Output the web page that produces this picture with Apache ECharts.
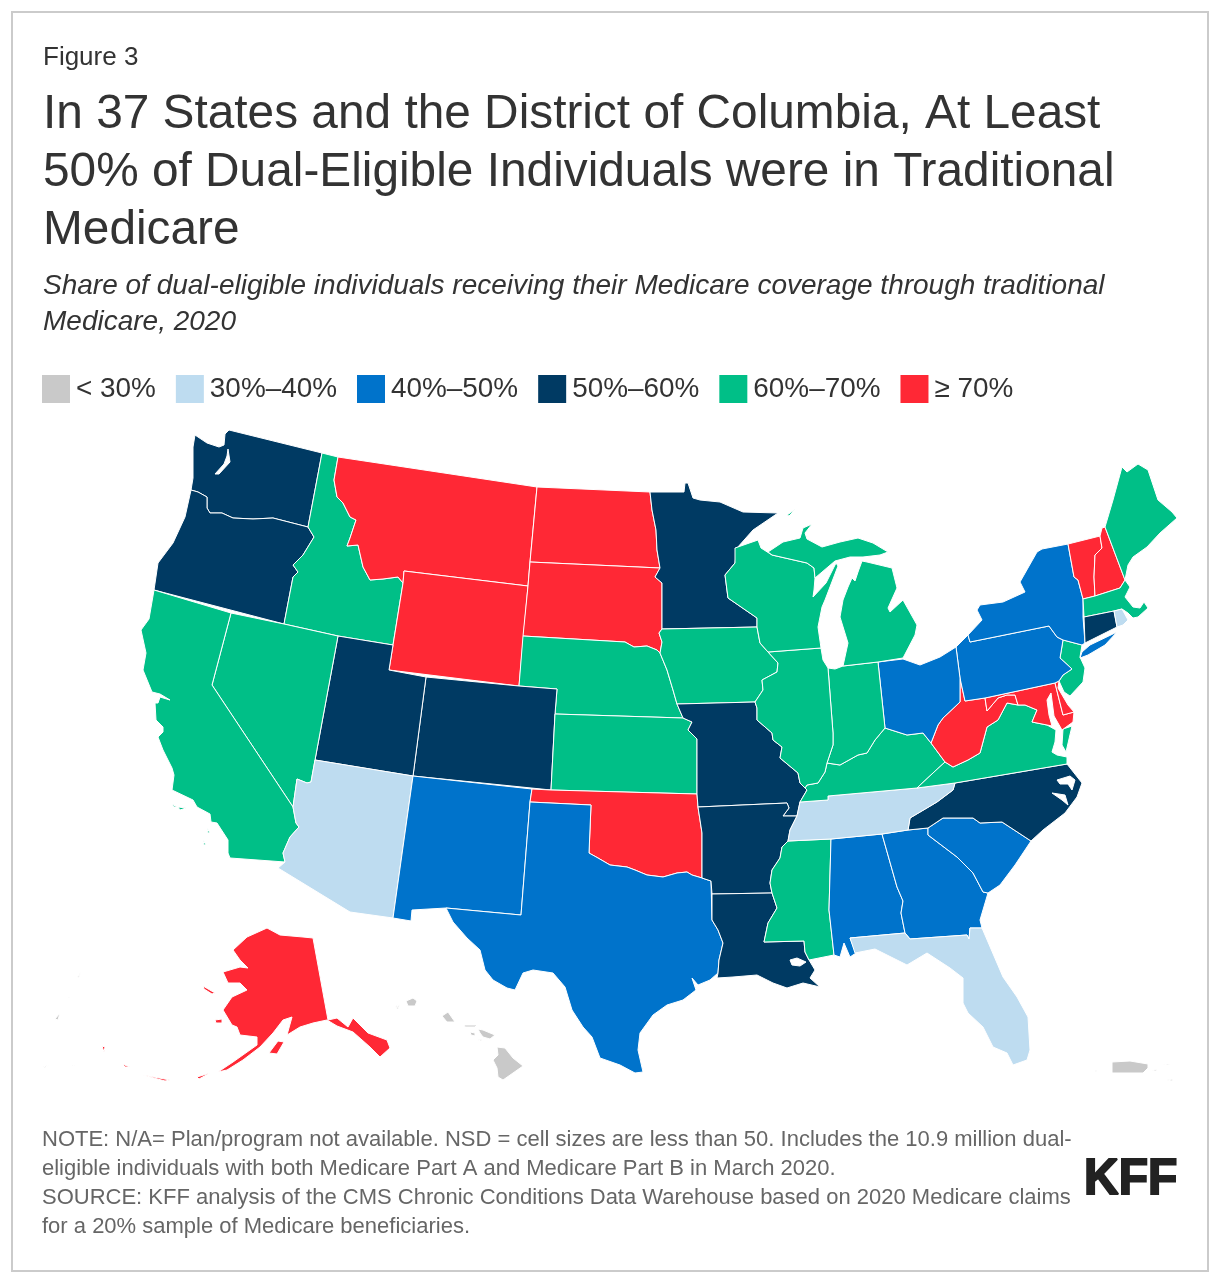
<!DOCTYPE html>
<html><head><meta charset="utf-8">
<style>html,body{margin:0;padding:0;background:#fff}#c{width:1220px;height:1282px}</style>
<script src="https://cdn.jsdelivr.net/npm/echarts@6/dist/echarts.min.js"></script>
</head><body><div id="c"></div>
<script>
const bandLabels = ['< 30%','30%–40%','40%–50%','50%–60%','60%–70%','≥ 70%'];
const bandColors = ['#c9c9c9','#bedcf0','#0073cb','#003a63','#00bf87','#ff2835'];
const bandUnder30 = ['HI','PR','VI','GU','MP','AS'];
const band30to40 = ['AZ','TN','FL','RI'];
const band40to50 = ['NY','PA','OH','NM','TX','AL','GA','SC'];
const band50to60 = ['WA','OR','UT','CO','MN','MO','AR','LA','NC','CT'];
const band60to70 = ['CA','NV','ID','NE','KS','IA','WI','MI','IL','IN','KY','MS','VA','NJ','MA','ME'];
const bandOver70 = ['MT','WY','ND','SD','OK','WV','MD','DE','VT','NH','AK'];
const bands = [bandUnder30,band30to40,band40to50,band50to60,band60to70,bandOver70];

const stateOutlines = {
WA:['195,435 207,443 219,447 224,445 225,434 229,430 322,453 308,527 273,518 253,519 233,518 222,513 210,513 207,508 207,497 198,492 191,490 193,478 193,472 193,447|228,449 230,462 219,474 215,474 224,464 227,456'],
OR:['191,490 198,492 207,497 207,508 210,513 222,513 233,518 253,519 273,518 308,527 314,537 303,555 293,565 298,572 293,577 284,624 154,590 158,563 173,543 185,517'],
ID:['322,453 338,457 334,480 337,497 343,503 350,517 356,520 350,538 347,546 358,545 363,567 370,580 383,579 398,577 403,583 393,645 338,636 284,624 293,577 298,572 293,565 303,555 314,537 308,527'],
MT:['338,457 537,487 530,562 528,586 404,571 403,583 398,577 383,579 370,580 363,567 358,545 347,546 350,538 356,520 350,517 343,503 337,497 334,480'],
WY:['404,571 528,586 519,686 389,670 393,645 403,583'],
ND:['537,487 650,492 652,510 656,530 657,550 660,568 530,562'],
SD:['530,562 660,568 655,577 662,583 662,629 659,633 662,642 660,653 657,650 647,646 634,647 625,642 523,636 528,586'],
NE:['523,636 625,642 634,647 647,646 657,650 660,653 667,670 673,690 677,704 683,718 555,714 557,689 519,686'],
CO:['426,677 519,686 557,689 555,714 551,790 413,776'],
UT:['338,636 393,645 389,670 426,677 413,776 315,760'],
NV:['231,613 284,624 338,636 315,760 311,782 307,783 297,779 295,793 293,807 212,685'],
CA:['154,590 231,613 212,685 293,807 296,823 299,827 290,837 283,853 285,862 230,858 228,853 228,840 217,823 211,822 210,814 197,807 193,800 172,790 174,775 172,768 163,750 158,737 163,732 163,727 156,720 155,703 158,703 160,697 170,700 160,694 152,692 143,670 146,653 141,630 149,619',
 '172,804 177,807 174,807','178,807 186,808 180,810','207,828 210,833 208,833','203,840 206,845 204,845'],
AZ:['315,760 413,776 393,918 350,912 278,868 285,862 283,853 290,837 299,827 296,823 293,807 295,793 297,779 307,783 311,782'],
NM:['413,776 532,789 530,802 521,915 446,908 412,910 411,921 393,918'],
KS:['555,714 683,718 692,722 688,730 697,739 697,794 551,790'],
OK:['532,789 551,790 697,794 698,807 702,833 702,878 692,875 687,872 677,873 663,877 647,875 635,870 627,867 610,865 598,858 589,853 591,805 530,802'],
TX:['530,802 591,805 589,853 598,858 610,865 627,867 635,870 647,875 663,877 677,873 687,872 692,875 702,878 711,881 712,920 718,930 723,943 719,960 718,973 710,980 698,985 692,978 696,990 683,1000 667,1005 653,1015 640,1033 638,1050 643,1072 635,1073 620,1065 600,1058 592,1037 583,1027 572,1010 565,987 553,973 533,970 523,973 515,990 507,988 493,980 485,970 480,950 467,938 453,922 446,908 521,915'],
MN:['650,492 684,492 685,483 688,483 693,498 700,500 720,502 743,512 778,513 753,530 737,548 735,563 725,575 728,598 757,618 757,627 662,629 662,583 655,577 660,568 657,550 656,530 652,510'],
IA:['662,629 757,627 760,643 768,652 778,663 777,672 762,680 763,690 755,702 677,704 673,690 667,670 660,653 662,642 659,633'],
MO:['677,704 755,702 757,708 757,720 772,733 773,740 782,747 780,758 798,773 800,783 805,788 807,790 800,802 797,816 783,816 789,808 787,803 698,807 697,794 697,739 688,730 692,722 683,718'],
AR:['698,807 787,803 789,808 783,816 797,816 790,830 788,841 782,847 780,858 772,870 770,883 772,893 712,894 711,881 702,878 702,833'],
LA:['712,894 772,893 777,908 768,923 764,942 804,941 805,952 809,960 815,970 810,978 820,987 803,983 787,988 773,983 757,975 733,977 717,978 718,973 719,960 723,943 718,930 712,920|790,960 797,958 806,962 800,966 792,965'],
MS:['788,841 831,839 829,910 834,955 809,960 805,952 804,941 764,942 768,923 777,908 772,893 770,883 772,870 780,858 782,847'],
AL:['831,839 882,834 897,887 903,901 901,913 905,933 850,938 856,953 850,957 844,943 840,957 834,955 829,910'],
GA:['882,834 908,830 928,828 928,835 957,857 973,873 983,892 988,893 980,920 982,928 970,928 969,939 967,935 910,939 905,933 901,913 903,901 897,887'],
FL:['850,938 905,933 910,939 967,935 969,939 970,928 982,928 1003,977 1017,997 1028,1017 1030,1050 1027,1060 1013,1065 1007,1053 993,1047 983,1027 968,1013 963,1003 963,978 950,968 927,953 907,965 897,960 875,949 855,953'],
SC:['928,828 943,818 973,818 980,823 1002,822 1031,841 1015,865 1000,885 988,893 983,892 973,873 957,857 928,835'],
NC:['908,830 910,818 937,802 953,790 955,783 1067,764 1082,783 1077,797 1065,813 1043,830 1031,841 1002,822 980,823 973,818 943,818 928,828|1057,780 1070,776 1075,780 1072,790 1068,784 1060,784|1052,793 1065,795 1068,805 1062,800'],
TN:['788,841 790,830 797,816 800,802 828,800 828,796 917,788 955,783 953,790 937,802 910,818 908,830 882,834 831,839'],
KY:['800,802 807,790 805,788 807,785 818,783 825,772 827,763 840,765 858,755 867,753 875,740 885,728 907,735 923,733 931,743 945,762 933,773 917,788 828,796 828,800'],
VA:['917,788 933,773 945,762 953,767 968,760 980,753 987,727 998,720 1007,703 1018,705 1025,705 1037,710 1032,722 1047,725 1056,730 1055,742 1052,752 1057,755 1067,757 1067,764 955,783','1063,729 1072,726 1066,752 1062,745'],
WV:['960,678 965,701 985,698 987,711 998,698 1007,695 1015,695 1018,705 1007,703 998,720 987,727 980,753 968,760 953,767 945,762 931,743 938,725 943,718 960,702'],
MD:['985,698 1055,683 1063,715 1074,712 1073,722 1062,730 1054,716 1051,693 1047,700 1049,715 1052,726 1047,725 1032,722 1037,710 1025,705 1018,705 1015,695 1007,695 998,698 987,711'],
DE:['1055,683 1059,681 1058,688 1068,705 1074,712 1063,715'],
NJ:['1063,640 1082,645 1080,657 1085,668 1083,682 1070,696 1064,692 1059,681 1063,675 1072,669 1060,658'],
PA:['956,647 968,635 970,642 1049,626 1057,637 1063,640 1060,658 1072,669 1063,675 1059,681 1055,683 985,698 965,701 960,678'],
NY:['968,635 982,620 977,610 980,605 1003,602 1025,592 1020,582 1037,552 1042,549 1068,544 1074,577 1078,580 1083,599 1083,617 1085,643 1082,645 1063,640 1057,637 1049,626 970,642','1082,652 1090,645 1117,632 1105,645 1088,655 1080,658'],
VT:['1068,544 1100,536 1102,548 1095,555 1094,577 1095,596 1083,599 1078,580 1074,577'],
NH:['1100,536 1102,528 1105,527 1125,580 1120,588 1095,596 1094,577 1095,555 1102,548'],
ME:['1105,527 1113,500 1122,467 1127,472 1138,464 1148,470 1158,500 1172,512 1177,518 1160,533 1147,547 1133,557 1128,565 1125,580'],
MA:['1083,599 1095,596 1120,588 1125,580 1130,587 1125,597 1133,607 1140,608 1144,602 1148,608 1138,617 1133,618 1128,613 1122,609 1114,611 1084,617'],
CT:['1084,617 1114,611 1117,627 1085,643'],
RI:['1114,611 1122,609 1128,620 1123,625 1117,627'],
OH:['878,662 903,659 920,665 940,657 956,647 960,678 960,702 943,718 938,725 931,743 923,733 907,735 885,728'],
IN:['828,668 835,669 843,666 878,662 885,728 875,740 867,753 858,755 840,765 827,763 833,745 833,733'],
IL:['768,652 821,648 823,660 828,668 833,733 833,745 827,763 825,772 818,783 807,785 805,788 800,783 798,773 780,758 782,747 773,740 772,733 757,720 757,708 755,702 763,690 762,680 777,672 778,663'],
WI:['735,548 758,540 761,548 772,555 807,563 814,568 815,578 814,590 813,597 826,583 836,563 838,566 825,600 822,607 818,627 821,648 768,652 760,643 757,627 757,618 728,598 725,575 735,563'],
MI:['768,552 783,542 800,538 803,528 812,524 805,533 807,539 822,547 840,542 858,538 873,543 888,552 880,555 863,557 850,557 835,561 815,578 814,568 807,563 772,555',
 '843,666 848,643 840,617 843,600 848,587 852,578 855,581 858,572 862,561 867,562 892,568 897,588 888,608 890,612 903,600 917,625 915,635 903,658 878,662',
 '787,515 796,509 797,510 789,516'],
AK:['313,938 328,1020 337,1018 348,1027 353,1018 368,1033 387,1040 390,1048 380,1057 370,1047 353,1032 337,1026 327,1020 313,1023 300,1027 287,1035 292,1017 283,1020 273,1033 260,1047 243,1060 227,1070 218,1072 233,1062 257,1045 257,1037 240,1035 237,1027 232,1025 223,1010 232,997 247,990 240,983 228,983 223,972 240,967 248,968 240,960 233,950 247,937 267,928 280,935 303,937',
 '269,1053 278,1041 284,1042 277,1054','215,1020 222,1019 222,1023 216,1023','203,986 215,993 212,994 204,989',
 '197,1077 210,1073 199,1079','143,1075 170,1080 165,1081','122,1064 130,1067 125,1067','102,1046 105,1047 104,1052'],
HI:['497,1047 505,1048 513,1058 523,1066 503,1080 498,1077 497,1068 493,1060 498,1055','478,1029 483,1030 495,1035 490,1039 483,1037 480,1033','464,1025 477,1025 475,1027 465,1027','470,1032 475,1033 475,1036 471,1035','478,1040 482,1039 481,1041','442,1016 448,1012 455,1022 447,1022','406,1001 413,998 417,1001 415,1006 408,1006','395,1008 398,1004 397,1007'],
PR:['1112,1062 1130,1061 1148,1064 1148,1068 1143,1073 1112,1073','1152,1071 1157,1069 1156,1071','1095,1070 1097,1071 1095,1072'],
VI:['1167,1080 1173,1079 1172,1081','1163,1064 1170,1064 1168,1065'],
GU:['55,1019 60,1013 58,1020','77,978 81,972 79,977'],
MP:['43,1067 49,1065 44,1068','68,997 70,998 68,998'],
AS:['396,1009 400,1004 398,1009','72,1065 75,1066 72,1066']
};

const titleFigure = 'Figure 3';
const titleMain = 'In 37 States and the District of Columbia, At Least\n50% of Dual-Eligible Individuals were in Traditional\nMedicare';
const titleSub = 'Share of dual-eligible individuals receiving their Medicare coverage through traditional\nMedicare, 2020';
const noteText = 'NOTE: N/A= Plan/program not available. NSD = cell sizes are less than 50. Includes the 10.9 million dual-\neligible individuals with both Medicare Part A and Medicare Part B in March 2020.\nSOURCE: KFF analysis of the CMS Chronic Conditions Data Warehouse based on 2020 Medicare claims\nfor a 20% sample of Medicare beneficiaries.';

const parseRing = r => r.trim().split(/\s+/).map(p => p.split(',').map(Number));
const ringArea = pts => pts.reduce((s,p,i) => { const q = pts[(i+1)%pts.length]; return s + p[0]*q[1]-q[0]*p[1]; }, 0);
const orient = (pts, positive) => (ringArea(pts) > 0) === positive ? pts : pts.slice().reverse();
const features = Object.keys(stateOutlines).map(name => ({
  type:'Feature', properties:{name},
  geometry:{type:'MultiPolygon', coordinates: stateOutlines[name].map(poly =>
    poly.split('|').map((r,i) => orient(parseRing(r), i === 0)))}
}));
echarts.registerMap('usa', {type:'FeatureCollection', features});

const mapData = [];
bands.forEach((names,i) => names.forEach(name => mapData.push({name, value:i})));
const font = '"Liberation Sans", Arial, sans-serif';
const chart = echarts.init(document.getElementById('c'), null, {renderer:'canvas'});
chart.setOption({
  animation:false,
  backgroundColor:'#fff',
  title:[
    {text:titleFigure,left:43,top:43,padding:0,textStyle:{fontFamily:font,fontSize:26,fontWeight:'normal',color:'#333',lineHeight:30}},
    {text:titleMain,left:43,top:86,padding:0,textStyle:{fontFamily:font,fontSize:47.8,fontWeight:'normal',color:'#333',lineHeight:58}},
    {text:titleSub,left:43,top:268,padding:0,textStyle:{fontFamily:font,fontSize:28,fontStyle:'italic',fontWeight:'normal',color:'#333',lineHeight:36}},
    {text:noteText,left:42,top:1125,padding:0,textStyle:{fontFamily:font,fontSize:22,fontWeight:'normal',color:'#666',lineHeight:29}}
  ],
  visualMap:{
    type:'piecewise',orient:'horizontal',left:42,top:375,padding:0,
    itemWidth:28,itemHeight:28,itemGap:20,itemSymbol:'rect',textGap:6,hoverLink:false,selectedMode:false,
    textStyle:{fontFamily:font,fontSize:27.9,color:'#333'},
    pieces:bandLabels.map((label,i)=>({value:i,label,color:bandColors[i]})),
    seriesIndex:0
  },
  series:[{
    type:'map',map:'usa',silent:true,data:mapData,
    projection:{project:p=>p,unproject:p=>p},
    boundingCoords:[[0,0],[1220,1282]],
    left:0,top:0,width:1220,height:1282,roam:false,
    label:{show:false},
    itemStyle:{borderColor:'#fff',borderWidth:1},
    emphasis:{disabled:true},select:{disabled:true}
  }],
  graphic:[
    {type:'rect',silent:true,z:-1,shape:{x:12,y:12,width:1196,height:1259},style:{fill:'#fff',stroke:'#cbcbcb',lineWidth:2}},
    {type:'text',silent:true,x:1084,y:1155,scaleX:0.96,style:{text:'KFF',fontFamily:font,fontSize:50,fontWeight:'bold',fill:'#222',stroke:'#222',lineWidth:2}}
  ]
});
</script></body></html>
